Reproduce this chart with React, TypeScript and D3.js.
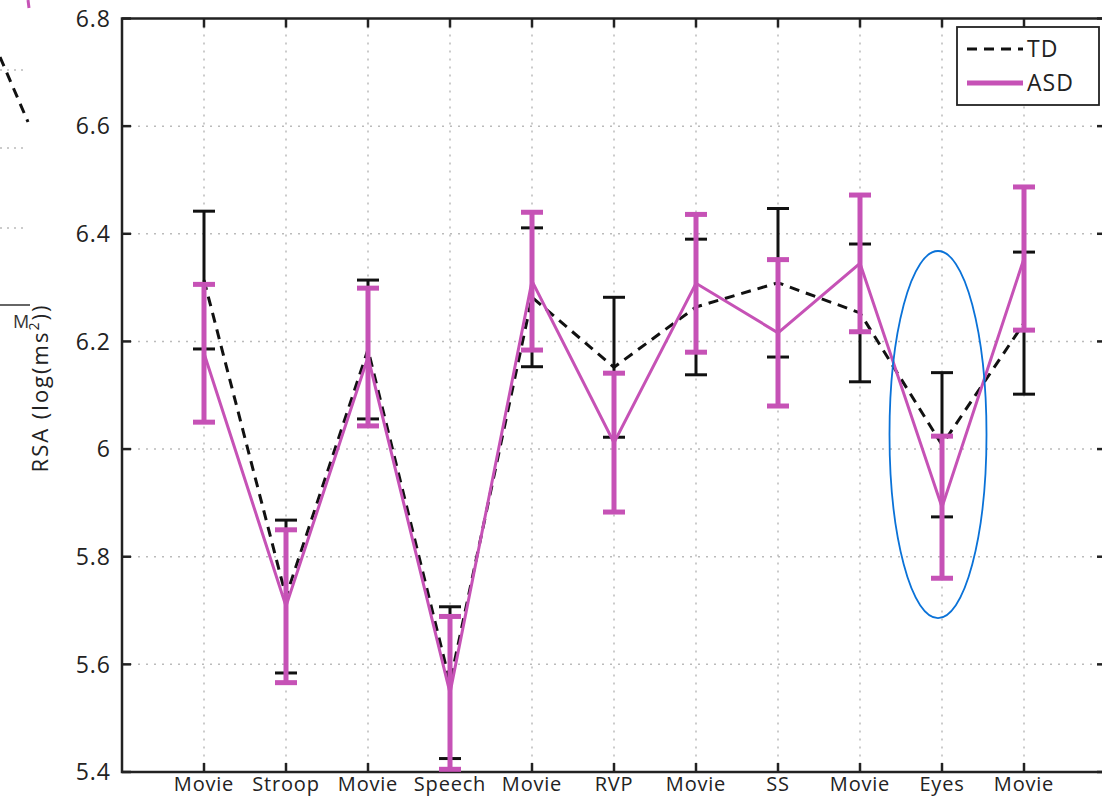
import * as React from 'react'
import * as d3 from 'd3'

const width = 1102
const height = 796
const margin = { top: 18.5, left: 122, bottom: 772, right: 1106 }
const pink = '#c652b6'
const black = '#111'
const font = '"Open Sans", "DejaVu Sans", sans-serif'

const categories = ['Movie', 'Stroop', 'Movie', 'Speech', 'Movie', 'RVP', 'Movie', 'SS', 'Movie', 'Eyes', 'Movie']
const tdMean = [6.314, 5.726, 6.185, 5.566, 6.282, 6.152, 6.264, 6.309, 6.253, 6.008, 6.234]
const tdErr = [0.128, 0.142, 0.129, 0.141, 0.129, 0.13, 0.126, 0.138, 0.128, 0.134, 0.132]
const asdMean = [6.178, 5.708, 6.171, 5.547, 6.312, 6.012, 6.308, 6.216, 6.345, 5.892, 6.354]
const asdErr = [0.128, 0.142, 0.128, 0.142, 0.128, 0.129, 0.128, 0.136, 0.127, 0.132, 0.133]
const yTicks = [5.4, 5.6, 5.8, 6, 6.2, 6.4, 6.6, 6.8]

// highlighted condition (Eyes) circled in the figure
const highlight = { index: 10, center: 6.027, halfSpan: 0.341 }

const App = () => {
  React.useEffect(() => {
    document.body.style.margin = '0'
  }, [])

  const x = d3.scaleLinear().domain([0, 12]).range([margin.left, margin.right])
  const y = d3.scaleLinear().domain([5.4, 6.8]).range([margin.bottom, margin.top])
  const idx = categories.map((_, i) => i + 1)

  const line = (vals: number[]) =>
    d3
      .line<number>()
      .x((_, i) => x(i + 1))
      .y(d => y(d))(vals)

  const errorBars = (mean: number[], err: number[], color: string, w: number, cap: number) =>
    mean.map((m, i) => {
      const cx = x(i + 1)
      const y0 = y(m - err[i])
      const y1 = y(m + err[i])
      return (
        <g key={i} stroke={color} strokeWidth={w}>
          <line x1={cx} x2={cx} y1={y0} y2={y1} />
          <line x1={cx - cap} x2={cx + cap} y1={y0} y2={y0} />
          <line x1={cx - cap} x2={cx + cap} y1={y1} y2={y1} />
        </g>
      )
    })

  return (
    <svg width={width} height={height} style={{ display: 'block', background: '#fff' }} fontFamily={font}>
      {/* fragments of the neighbouring panel */}
      <g>
        {[70, 148, 228].map(v => (
          <line key={v} x1={0} x2={28} y1={v} y2={v} stroke="#bbb" strokeWidth={1.5} strokeDasharray="2 5" />
        ))}
        <line x1={0} x2={28} y1={57} y2={122} stroke={black} strokeWidth={3} strokeDasharray="10 7" />
        <line x1={28} x2={29} y1={0} y2={8} stroke={pink} strokeWidth={3} />
        <line x1={0} x2={30} y1={305} y2={305} stroke="#333" strokeWidth={1.5} />
        <text x={13} y={328} fontSize={18} fill="#333">
          M
        </text>
      </g>

      {/* grid */}
      <g stroke="#bbb" strokeWidth={1.5} strokeDasharray="2 6">
        {yTicks.slice(1, -1).map(t => (
          <line key={t} x1={margin.left} x2={margin.right} y1={y(t)} y2={y(t)} />
        ))}
        {idx.map(i => (
          <line key={i} x1={x(i)} x2={x(i)} y1={margin.top} y2={margin.bottom} />
        ))}
      </g>

      {/* frame and ticks */}
      <g stroke="#222" strokeWidth={2.5}>
        <rect x={margin.left} y={margin.top} width={margin.right - margin.left} height={margin.bottom - margin.top} fill="none" />
        {yTicks.map(t => (
          <g key={t}>
            <line x1={margin.left} x2={margin.left + 9} y1={y(t)} y2={y(t)} />
            <line x1={margin.right - 9} x2={margin.right} y1={y(t)} y2={y(t)} />
          </g>
        ))}
        {idx.map(i => (
          <g key={i}>
            <line x1={x(i)} x2={x(i)} y1={margin.bottom} y2={margin.bottom - 9} />
            <line x1={x(i)} x2={x(i)} y1={margin.top} y2={margin.top + 9} />
          </g>
        ))}
      </g>

      {/* tick labels */}
      <g fill="#222" fontSize={23} letterSpacing={1} textAnchor="end">
        {yTicks.map(t => (
          <text key={t} x={margin.left - 11} y={y(t)} dy="0.36em">
            {d3.format('~g')(t)}
          </text>
        ))}
      </g>
      <g fill="#222" fontSize={20} letterSpacing={0.8} textAnchor="middle">
        {categories.map((c, i) => (
          <text key={i} x={x(i + 1)} y={margin.bottom + 19}>
            {c}
          </text>
        ))}
      </g>
      <text transform="translate(48, 388) rotate(-90)" fontSize={22} letterSpacing={2} textAnchor="middle" fill="#222">
        RSA (log(ms<tspan dy={-9} fontSize={14}>2</tspan>
        <tspan dy={9}>))</tspan>
      </text>

      {/* TD series */}
      {errorBars(tdMean, tdErr, black, 3, 11)}
      <path d={line(tdMean) || ''} fill="none" stroke={black} strokeWidth={3} strokeDasharray="10 7" />

      {/* ASD series */}
      {errorBars(asdMean, asdErr, pink, 5, 11)}
      <path d={line(asdMean) || ''} fill="none" stroke={pink} strokeWidth={3} />

      {/* highlight ellipse */}
      <ellipse
        cx={x(highlight.index) - 4}
        cy={y(highlight.center)}
        rx={48.5}
        ry={y(highlight.center - highlight.halfSpan) - y(highlight.center)}
        fill="none"
        stroke="#0a72d8"
        strokeWidth={1.8}
      />

      {/* legend */}
      <g>
        <rect x={957} y={27} width={142} height={78} fill="#fff" stroke="#222" strokeWidth={1.8} />
        <line x1={967} x2={1023} y1={49} y2={49} stroke={black} strokeWidth={3} strokeDasharray="10 7" />
        <text x={1027} y={49} dy="0.36em" fontSize={23} letterSpacing={1} fill="#222">
          TD
        </text>
        <line x1={967} x2={1023} y1={83} y2={83} stroke={pink} strokeWidth={5} />
        <text x={1027} y={83} dy="0.36em" fontSize={23} letterSpacing={1} fill="#222">
          ASD
        </text>
      </g>
    </svg>
  )
}

export default App
